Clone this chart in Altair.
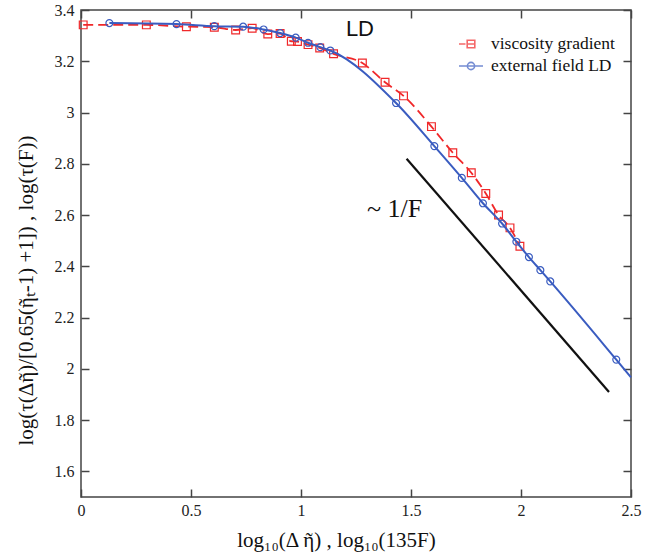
import altair as alt
import pandas as pd

# ---- data ----
series_names = ["viscosity gradient", "external field LD"]
series_colors = ["#f0282a", "#3a5cc0"]

red_x = [0.01, 0.297, 0.479, 0.606, 0.703, 0.778, 0.849, 0.905, 0.956, 0.984, 1.032,
         1.085, 1.148, 1.279, 1.382, 1.466, 1.593, 1.690, 1.774, 1.840, 1.898, 1.950, 1.995]
red_y = [3.342, 3.342, 3.335, 3.333, 3.322, 3.329, 3.306, 3.308, 3.278, 3.277, 3.265,
         3.252, 3.229, 3.193, 3.118, 3.065, 2.945, 2.843, 2.765, 2.684, 2.600, 2.550, 2.478]

blue_x = [0.129, 0.434, 0.606, 0.737, 0.830, 0.905, 0.976, 1.032, 1.088, 1.133,
          1.432, 1.606, 1.731, 1.827, 1.914, 1.979, 2.036, 2.088, 2.133, 2.433]
blue_y = [3.349, 3.345, 3.337, 3.335, 3.324, 3.310, 3.292, 3.272, 3.255, 3.242,
          3.037, 2.869, 2.745, 2.646, 2.567, 2.496, 2.436, 2.385, 2.341, 2.036]
# where the blue line meets the right frame (no marker)
blue_end_x = [2.5]
blue_end_y = [1.967]

guide_x = [1.48, 2.40]
guide_y = [2.82, 1.91]

x_ticks = [0, 0.5, 1, 1.5, 2, 2.5]
y_ticks = [1.6, 1.8, 2.0, 2.2, 2.4, 2.6, 2.8, 3.0, 3.2, 3.4]

ld_label = {"x": [1.204], "y": [3.30], "t": ["LD"]}
slope_label = {"x": [1.30], "y": [2.593], "t": ["~\u00a01/F"]}

x_title = "log\u2081\u2080(\u0394 \u1fc6) , log\u2081\u2080(135F)"
y_title = "log(\u03c4(\u0394\u1fc6)/[0.65(\u1fc6\u209c-1) +1]) , log(\u03c4(F))"

SERIF = "Liberation Serif"
SANS = "Liberation Sans"

red_df = pd.DataFrame({"x": red_x, "y": red_y})
blue_pts = pd.DataFrame({"x": blue_x, "y": blue_y})
blue_line_df = pd.DataFrame({"x": blue_x + blue_end_x, "y": blue_y + blue_end_y})
guide_df = pd.DataFrame({"x": guide_x, "y": guide_y})
ld_df = pd.DataFrame(ld_label)
slope_df = pd.DataFrame(slope_label)
legend_df = pd.DataFrame({"series": series_names})

xscale = alt.Scale(domain=[0, 2.5], nice=False, zero=False)
yscale = alt.Scale(domain=[1.5, 3.4], nice=False, zero=False)

common_axis = dict(domain=False, grid=False, offset=-8, tickSize=8, tickColor="#444",
                   tickWidth=1.5, labelFlush=False)

x_bottom = alt.Axis(orient="bottom", values=x_ticks, format="~g", labelPadding=5,
                    labelFont=SERIF, labelFontSize=16, labelColor="#222",
                    title=x_title, titleFont=SERIF, titleFontSize=21, titleFontWeight="normal",
                    titleColor="#111", titleX=255, titleY=51, titleBaseline="middle",
                    **common_axis)
y_left = alt.Axis(orient="left", values=y_ticks, format="~g", labelPadding=7,
                  labelFont=SERIF, labelFontSize=16, labelColor="#222",
                  title=y_title, titleFont=SERIF, titleFontSize=21, titleFontWeight="normal",
                  titleColor="#111", titleX=-63, titleY=280, titleBaseline="middle",
                  **common_axis)
x_top = alt.Axis(orient="top", values=x_ticks, labels=False, title=None, **common_axis)
y_right = alt.Axis(orient="right", values=y_ticks, labels=False, title=None, **common_axis)


def enc(chart, xa=None, ya=None):
    return chart.encode(
        x=alt.X("x:Q", scale=xscale, axis=xa),
        y=alt.Y("y:Q", scale=yscale, axis=ya),
    )


red_line = enc(alt.Chart(red_df).mark_line(color=series_colors[0], strokeWidth=1.8,
                                           strokeDash=[10, 5], interpolate="monotone"),
               x_bottom, y_left)
red_pts = enc(alt.Chart(red_df).mark_point(shape="square", filled=False, size=60,
                                           color=series_colors[0], strokeWidth=1.2, opacity=1))
blue_line = enc(alt.Chart(blue_line_df).mark_line(color=series_colors[1], strokeWidth=2,
                                                  interpolate="monotone"))
blue_p = enc(alt.Chart(blue_pts).mark_point(shape="circle", filled=False, size=48,
                                            color=series_colors[1], strokeWidth=1.2, opacity=1))
guide = enc(alt.Chart(guide_df).mark_line(color="#111", strokeWidth=2.2), x_top, y_right)

ld_text = enc(alt.Chart(ld_df).mark_text(align="left", baseline="alphabetic", font=SANS,
                                         fontSize=22, color="#111")).encode(text="t:N")
slope_text = enc(alt.Chart(slope_df).mark_text(align="left", baseline="alphabetic", font=SERIF,
                                               fontSize=26, color="#111")).encode(text="t:N")

red_path = "M-1.2,0H-0.55M-0.38,-0.38H0.38V0.38H-0.38ZM-0.38,0H0.38"
blue_path = ("M-1.2,0H1.2M0.36,0A0.36,0.36 0 1,1 -0.36,0A0.36,0.36 0 1,1 0.36,0")

legend = alt.Legend(orient="none", legendX=379, legendY=23, title=None,
                    labelFont=SERIF, labelFontSize=17.5, labelColor="#111",
                    symbolSize=400, symbolStrokeWidth=1.6, rowPadding=2,
                    labelOffset=9, padding=0)
legend_layer = alt.Chart(legend_df).mark_point(filled=False, strokeWidth=1.6).encode(
    color=alt.Color("series:N", scale=alt.Scale(domain=series_names, range=series_colors),
                    legend=legend),
    shape=alt.Shape("series:N", scale=alt.Scale(domain=series_names, range=[red_path, blue_path]),
                    legend=legend),
).transform_filter("false")

chart = alt.layer(
    red_line, red_pts, blue_line, blue_p, guide, ld_text, slope_text, legend_layer
).resolve_axis(x="independent", y="independent").properties(
    width=550, height=487,
    padding={"left": 81, "top": 10, "right": 14, "bottom": 55},
    autosize=alt.AutoSizeParams(type="none"),
    background="white",
).configure_view(stroke="#444", strokeWidth=1.5)

chart.save("out.html", embed_options={"renderer": "svg", "actions": False})
